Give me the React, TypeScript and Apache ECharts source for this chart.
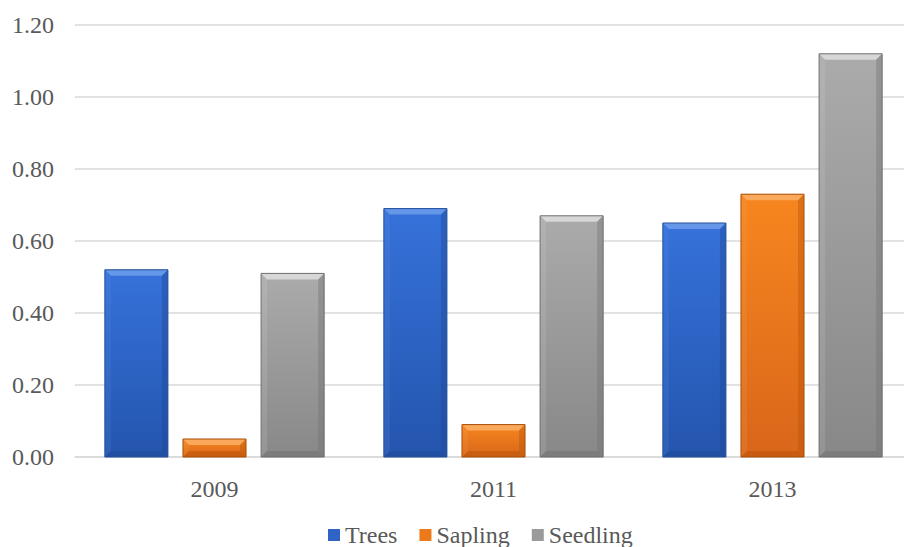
import React, { useEffect, useRef } from "react";
import * as echarts from "echarts";

const categories = ["2009", "2011", "2013"];
const seriesNames = ["Trees", "Sapling", "Seedling"];
const trees = [0.52, 0.69, 0.65];
const sapling = [0.05, 0.09, 0.73];
const seedling = [0.51, 0.67, 1.12];
const yTicks = [0, 0.2, 0.4, 0.6, 0.8, 1.0, 1.2];

const FONT = "Liberation Serif";

const palette = [
  { top: "#3672da", bottom: "#2455ae", light: "#6a9bea", dark: "#1d4793", edge: "#224f9c", icon: "#2f63c6" },
  { top: "#f7861f", bottom: "#d9661a", light: "#fbad62", dark: "#b55208", edge: "#a94f06", icon: "#ec7a1a" },
  { top: "#ababab", bottom: "#888888", light: "#dcdcdc", dark: "#707070", edge: "#6f6f6f", icon: "#9a9a9a" },
];

function makeRender(si: number) {
  return (params: any, api: any) => {
    const ci = api.value(0);
    const v = api.value(1);
    const top = api.coord([ci, v]);
    const base = api.coord([ci, 0]);
    const band = api.size([1, 0])[0];
    const bw = band * 0.226;
    const gap = band * 0.054;
    const cx = top[0] + (si - 1) * (bw + gap);
    const x0 = cx - bw / 2;
    const x1 = cx + bw / 2;
    const y0 = top[1];
    const y1 = base[1];
    const h = y1 - y0;
    const b = Math.min(6, h / 2, bw / 2);
    const c = palette[si];
    const grad = new echarts.graphic.LinearGradient(0, 0, 0, 1, [
      { offset: 0, color: c.top },
      { offset: 1, color: c.bottom },
    ]);
    return {
      type: "group",
      children: [
        {
          type: "rect",
          shape: { x: x0, y: y0, width: bw, height: h },
          style: { fill: grad },
        },
        {
          type: "polygon",
          shape: { points: [[x0, y0], [x1, y0], [x1 - b, y0 + b], [x0 + b, y0 + b]] },
          style: { fill: c.light, opacity: 0.9 },
        },
        {
          type: "polygon",
          shape: { points: [[x1, y0], [x1 - b, y0 + b], [x1 - b, y1 - b], [x1, y1]] },
          style: { fill: c.dark, opacity: 0.4 },
        },
        {
          type: "polygon",
          shape: { points: [[x0, y0], [x0 + b, y0 + b], [x0 + b, y1 - b], [x0, y1]] },
          style: { fill: c.light, opacity: 0.15 },
        },
        {
          type: "polygon",
          shape: { points: [[x0, y1], [x0 + b, y1 - b], [x1 - b, y1 - b], [x1, y1]] },
          style: { fill: c.dark, opacity: 0.5 },
        },
        {
          type: "rect",
          shape: { x: x0, y: y0, width: bw, height: h },
          style: { fill: "none", stroke: c.edge, lineWidth: 1 },
        },
      ],
    };
  };
}

export default function App() {
  const ref = useRef<HTMLDivElement>(null);
  useEffect(() => {
    if (!ref.current) return;
    const chart = echarts.init(ref.current, null, { renderer: "svg" });
    const dataSets = [trees, sapling, seedling];
    chart.setOption({
      animation: false,
      backgroundColor: "#ffffff",
      textStyle: { fontFamily: FONT },
      grid: { left: 67, right: -14, top: 17, bottom: 90, containLabel: false },
      legend: {
        top: 515,
        left: 320,
        padding: 0,
        icon: "rect",
        itemWidth: 12,
        itemHeight: 12,
        itemGap: 22,
        textStyle: { color: "#595959", fontSize: 24, fontFamily: FONT },
        data: seriesNames.map((n, i) => ({ name: n, itemStyle: { color: palette[i].icon } })),
      },
      xAxis: {
        type: "category",
        data: categories,
        axisLine: { show: true, lineStyle: { color: "#d9d9d9", width: 1.5 } },
        axisTick: { show: false },
        axisLabel: { color: "#595959", fontSize: 24, margin: 20, fontFamily: FONT },
      },
      yAxis: {
        type: "value",
        min: yTicks[0],
        max: yTicks[yTicks.length - 1],
        interval: 0.2,
        axisLine: { show: false },
        axisTick: { show: false },
        splitLine: { lineStyle: { color: "#d9d9d9", width: 1.5 } },
        axisLabel: {
          color: "#595959",
          fontSize: 24,
          margin: 21,
          fontFamily: FONT,
          formatter: (v: number) => v.toFixed(2),
        },
      },
      series: seriesNames.map((name, si) => ({
        name,
        type: "custom",
        itemStyle: { color: palette[si].icon },
        renderItem: makeRender(si),
        encode: { x: 0, y: 1 },
        data: dataSets[si].map((v, ci) => [ci, v]),
      })),
    });
    return () => chart.dispose();
  }, []);
  return <div ref={ref} style={{ width: 904, height: 539 }} />;
}
